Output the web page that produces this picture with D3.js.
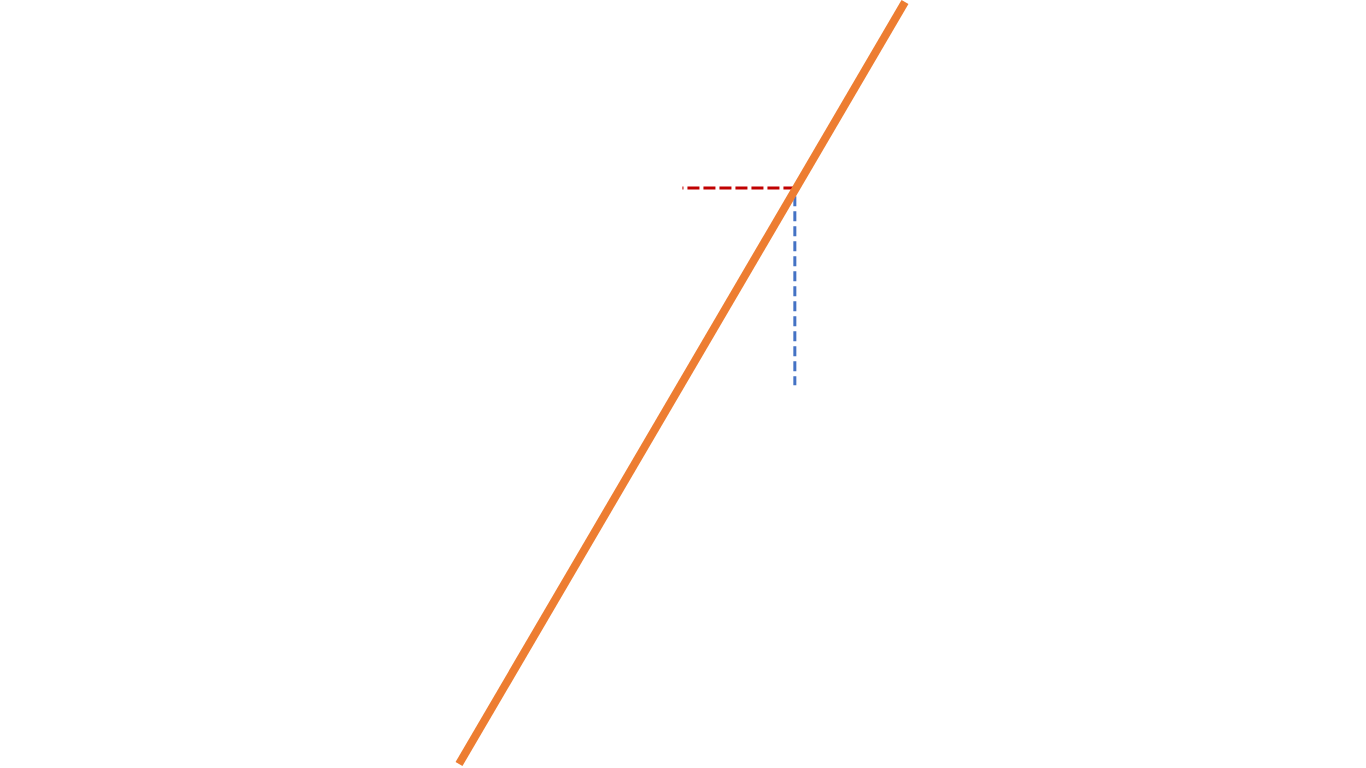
<!DOCTYPE html>
<html>
<head>
<meta charset="utf-8">
<script src="https://cdn.jsdelivr.net/npm/d3@7"></script>
<style>
html,body{margin:0;padding:0;background:#fff;overflow:hidden;}
svg{display:block;}
</style>
</head>
<body>
<svg id="chart" width="1366" height="768"></svg>
<script>
// Data (in chart units)
const curveX = [0, 10];
const curveY = [0, 10];
const hGuideX = [5.01, 7.49];
const hGuideY = [7.56, 7.56];
const vGuideX = [7.53, 7.53];
const vGuideY = [7.45, 4.97];

const svg = d3.select("#chart");
const x = d3.scaleLinear().domain([0, 10]).range([459, 905]);
const y = d3.scaleLinear().domain([0, 10]).range([764, 2]);

const line = d3.line().x(d => x(d.x)).y(d => y(d.y));
const zip = (xs, ys) => xs.map((v, i) => ({x: v, y: ys[i]}));

// horizontal red dashed guide
svg.append("path")
  .datum(zip(hGuideX, hGuideY))
  .attr("d", line)
  .attr("fill", "none")
  .attr("stroke", "#C00000")
  .attr("stroke-width", 3)
  .attr("stroke-dasharray", "12,4")
  .attr("stroke-dashoffset", 11);

// vertical blue dashed guide
svg.append("path")
  .datum(zip(vGuideX, vGuideY))
  .attr("d", line)
  .attr("fill", "none")
  .attr("stroke", "#4472C4")
  .attr("stroke-width", 3)
  .attr("stroke-dasharray", "10,5");

// orange line
svg.append("path")
  .datum(zip(curveX, curveY))
  .attr("d", line)
  .attr("fill", "none")
  .attr("stroke", "#ED7D31")
  .attr("stroke-width", 8);
</script>
</body>
</html>
